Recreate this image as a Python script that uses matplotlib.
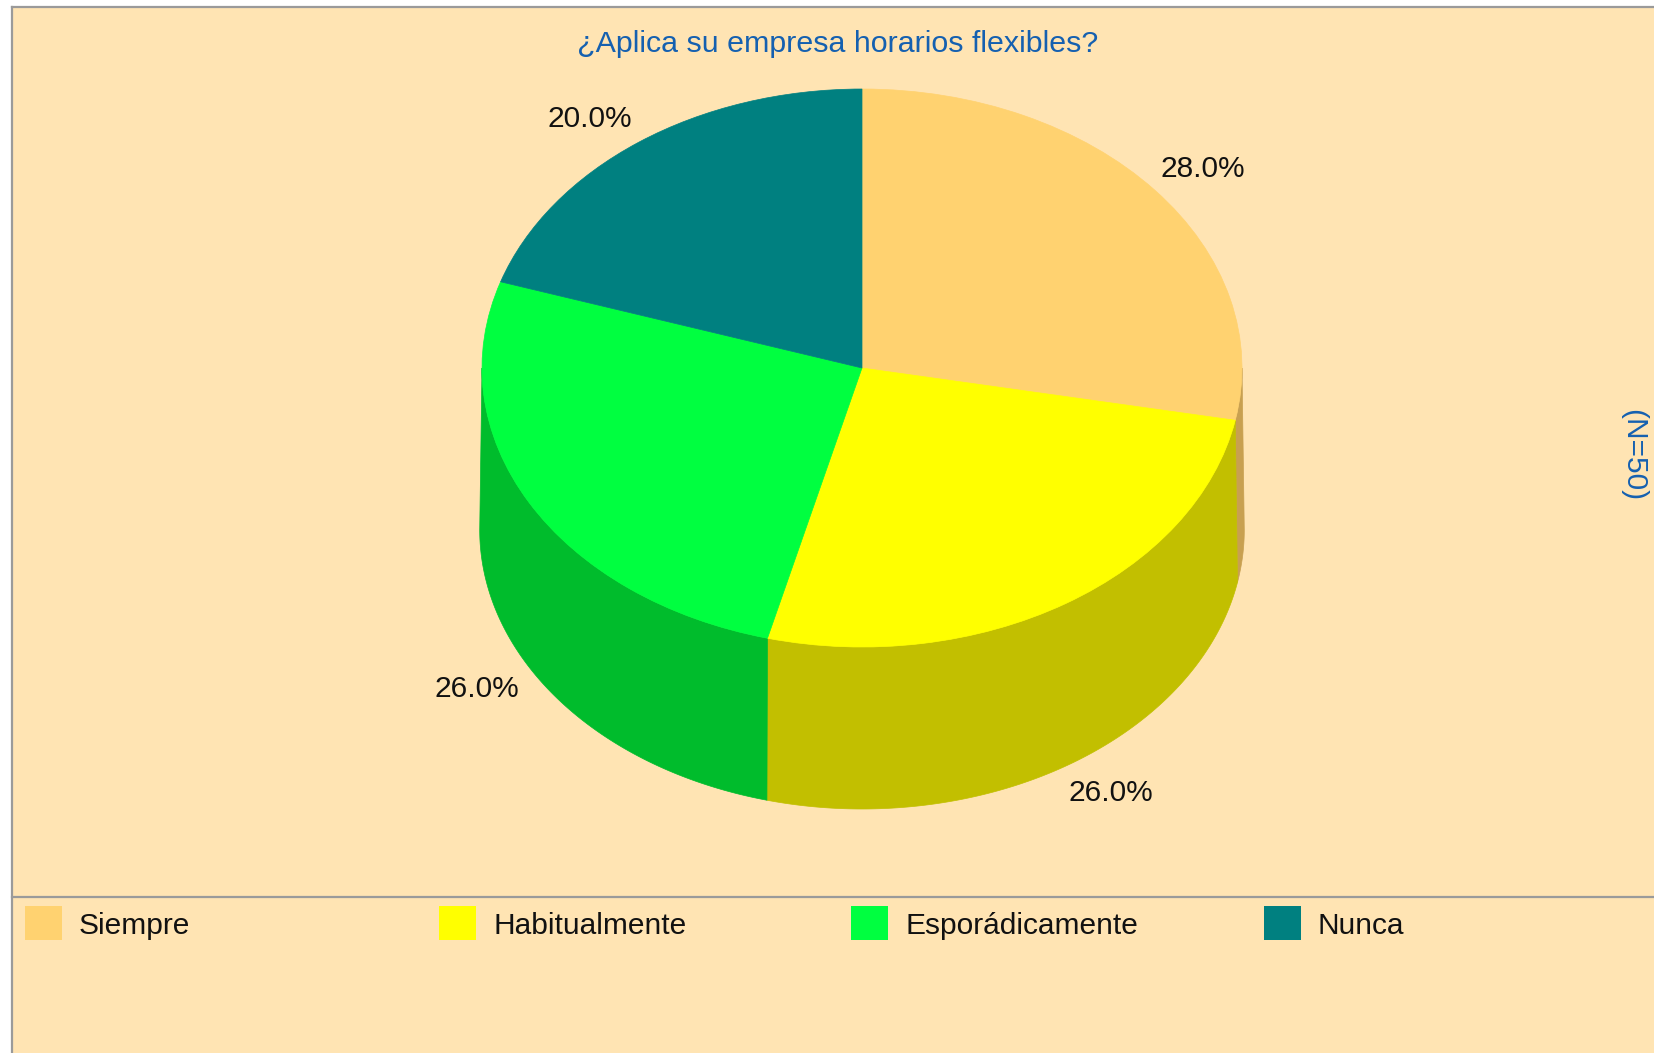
import numpy as np
import matplotlib
matplotlib.use("Agg")
import matplotlib.pyplot as plt
from matplotlib.patches import Rectangle
from matplotlib.lines import Line2D

plt.rcParams['font.family'] = ['Liberation Sans', 'DejaVu Sans']

# ---- data ----
title = "¿Aplica su empresa horarios flexibles?"
side_note = "(N=50)"
categories = ["Siempre", "Habitualmente", "Esporádicamente", "Nunca"]
percentages = [28.0, 26.0, 26.0, 20.0]

# ---- style ----
top_colors = ["#FFD270", "#FFFF00", "#00FF40", "#008080"]
wall_colors = ["#C8A050", "#C2BF00", "#00BC2C", "#006060"]
BG = "#FFE4B3"
FRAME = "#9A9A9A"
BLUE = "#1560B0"
W, H = 1654, 1053
CX, CY, RX, RY = 862, 368, 380, 279
DEPTH_PX = 162
LABEL_PX = [(1203, 169), (1111, 793), (477, 689), (590, 119)]
LEGEND_X = [25, 439, 851, 1264]
FS = 21.5
TITLE_FS = 21.9


def fx(x):
    return x / W


def fy(y):
    return 1 - y / H


fig = plt.figure(figsize=(W / 100, H / 100), dpi=100, facecolor="white")
fig.add_artist(Rectangle((fx(12), 0), 1 - fx(12), fy(7), transform=fig.transFigure,
                         facecolor=BG, edgecolor="none", zorder=-5))

ax = fig.add_axes([0, 0, 1, 1])
ax.patch.set_visible(False)
ax.axis("off")

# side walls, extruded from the same slices
depth = DEPTH_PX / RY
bounds = np.cumsum([0.0] + percentages) * 3.6
for i in range(len(percentages)):
    a0, a1 = bounds[i], bounds[i + 1]
    a0v, a1v = max(a0, 90.0), min(a1, 270.0)
    if a1v <= a0v:
        continue
    t = np.radians(np.linspace(a0v, a1v, 200))
    xs = np.concatenate([np.sin(t), 1.006 * np.sin(t[::-1])])
    ys = np.concatenate([np.cos(t), np.cos(t[::-1]) - depth])
    ax.fill(xs, ys, color=wall_colors[i], lw=0.5, zorder=1)

# top face
wedges, _ = ax.pie(percentages, colors=top_colors, startangle=90, counterclock=False,
                   radius=1.0, wedgeprops=dict(linewidth=0.5, antialiased=True))
for w, c in zip(wedges, top_colors):
    w.set_edgecolor(c)
    w.set_zorder(2)
ax.set_aspect("auto")
ax.set_xlim(-CX / RX, (W - CX) / RX)
ax.set_ylim((CY - H) / RY, CY / RY)

# texts
fig.text(fx(838), fy(44), title, color=BLUE, fontsize=TITLE_FS, ha="center", va="center")
fig.text(fx(1633), fy(455), side_note, color=BLUE, fontsize=FS, rotation=270,
         ha="center", va="center")
for v, (lx, ly) in zip(percentages, LABEL_PX):
    fig.text(fx(lx), fy(ly), f"{v:.1f}%", color="#111111", fontsize=FS,
             ha="center", va="center")

# frame
for xs, ys in [((12, W), (7, 7)), ((12, 12), (7, H)), ((12, W), (897, 897))]:
    fig.add_artist(Line2D([fx(x) for x in xs], [fy(y) for y in ys], color=FRAME, lw=1.6,
                          transform=fig.transFigure, zorder=5))

# legend
for name, c, x in zip(categories, top_colors, LEGEND_X):
    fig.add_artist(Rectangle((fx(x), fy(940)), 37 / W, 34 / H, transform=fig.transFigure,
                             facecolor=c, edgecolor="none", zorder=5))
    fig.text(fx(x + 54), fy(926), name, color="#111111", fontsize=FS, ha="left", va="center")

fig.savefig("out.png", dpi=100, facecolor=fig.get_facecolor())
